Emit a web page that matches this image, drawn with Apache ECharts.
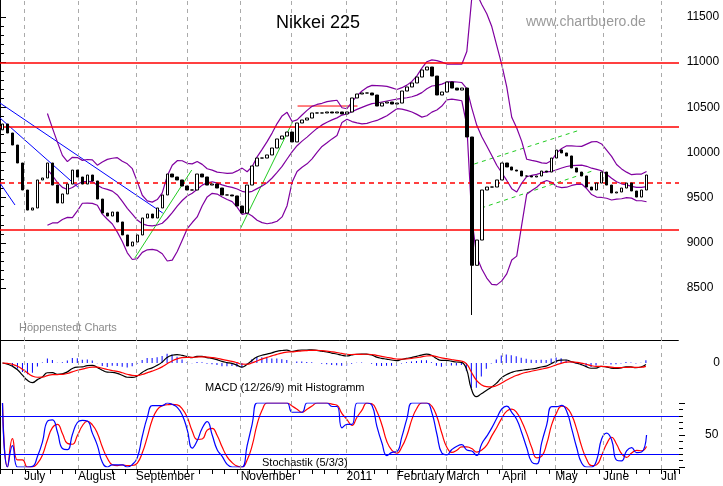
<!DOCTYPE html>
<html>
<head>
<meta charset="utf-8">
<script src="https://cdn.jsdelivr.net/npm/echarts@6/dist/echarts.min.js"></script>
<style>
  html, body { margin: 0; padding: 0; background: #fff; }
  #vis { width: 723px; height: 486px; }
</style>
</head>
<body>
<div id="vis"></div>
<script>
// closes per 2-day slot
const closes = [10315, 10215, 10082, 9883, 9584, 9362, 9385, 9695, 9717, 9883,
  9639, 9440, 9540, 9650, 9805, 9728, 9650, 9750, 9684, 9484,
  9329, 9296, 9340, 9230, 9086, 8964, 9008, 9086, 9274, 9318,
  9274, 9385, 9529, 9761, 9728, 9695, 9628, 9584, 9584, 9761,
  9728, 9639, 9650, 9606, 9529, 9529, 9518, 9407, 9329, 9639,
  9850, 9938, 9938, 9972, 10049, 10149, 10182, 10226, 10116, 10326,
  10359, 10381, 10437, 10437, 10437, 10448, 10437, 10448, 10426, 10448,
  10603, 10647, 10658, 10658, 10636, 10514, 10547, 10558, 10536, 10547,
  10680, 10725, 10769, 10835, 10913, 10946, 10846, 10636, 10669, 10780,
  10713, 10691, 10713, 10171, 8750, 9030, 9584, 9617, 9617, 9695,
  9883, 9839, 9805, 9794, 9739, 9739, 9728, 9739, 9794, 9783,
  9938, 10027, 9994, 9961, 9828, 9783, 9739, 9617, 9584, 9661,
  9783, 9639, 9551, 9562, 9606, 9661, 9573, 9506, 9584, 9750]
const firstOpen = 10250
const lowWicks = { 94: 8200 }
const slotCount = 136

const months = [
  { x: 4.8, name: 'July' }, { x: 15.6, name: 'August' }, { x: 27.2, name: 'September' },
  { x: 37.6, name: '' }, { x: 48.2, name: 'November' }, { x: 58.4, name: '' },
  { x: 69.4, name: '2011' }, { x: 79.4, name: 'February' }, { x: 89.4, name: 'March' },
  { x: 100.6, name: 'April' }, { x: 111.2, name: 'May' }, { x: 120.8, name: 'June' },
  { x: 132.4, name: 'Jul' }]

const hLines = [10990, 10282, 9141]
const dashLine = 9661
const resistance = [[59.6, 10514], [71.6, 10514]]
const blueLines = [[[0, 10547], [32.6, 9329]], [[0, 10381], [15.6, 9617]], [[0, 9661], [3, 9418]]]
const greenLines = [[[27, 8831], [38.4, 9805]], [[48.2, 9163], [58.6, 10337]]]
const greenDashed = [[[95, 9872], [115.6, 10238]], [[96.4, 9385], [118.6, 9794]]]

const FONT = 'Liberation Sans'

// candles: open = previous close
const opens = closes.map((c, i) => i === 0 ? firstOpen : closes[i - 1])
const highs = closes.map((c, i) => Math.max(c, opens[i]))
const lows = closes.map((c, i) => lowWicks[i] ?? Math.min(c, opens[i]))
const cats = Array.from({ length: slotCount }, (_, i) => i)
const candleData = closes.map((c, i) => [opens[i], c, lows[i], highs[i]])

function sma (arr, n) {
  return arr.map((v, i) => {
    if (i < n - 1) return null
    let s = 0
    for (let k = i - n + 1; k <= i; k++) s += arr[k]
    return s / n
  })
}
function ema (arr, n) {
  const a = 2 / (n + 1)
  const out = []
  arr.forEach((v, i) => { out.push(i === 0 ? v : a * v + (1 - a) * out[i - 1]) })
  return out
}

const bbN = 10
const mid = sma(closes, bbN)
const upper = []
const lower = []
closes.forEach((c, i) => {
  if (mid[i] == null) { upper.push(null); lower.push(null); return }
  let s = 0
  for (let k = i - bbN + 1; k <= i; k++) s += (closes[k] - mid[i]) ** 2
  const sd = Math.sqrt(s / bbN)
  upper.push(mid[i] + 2 * sd)
  lower.push(mid[i] - 2 * sd)
})

const e1 = ema(closes, 6)
const e2 = ema(closes, 13)
const macd = closes.map((c, i) => e1[i] - e2[i])
const signal = ema(macd, 5)
const hist = macd.map((m, i) => (m - signal[i]) * 1.5)
const macdMin = Math.min(...macd, ...signal) * 1.1
const macdMax = -macdMin * 23 / 37

const rawK = closes.map((c, i) => {
  const s = Math.max(0, i - 4)
  const hh = Math.max(...highs.slice(s, i + 1))
  const ll = Math.min(...lows.slice(s, i + 1))
  return hh === ll ? 50 : (c - ll) / (hh - ll) * 100
})
const kLine = sma(rawK, 3).map((v, i) => v ?? rawK[i])
const dLine = sma(kLine, 3).map((v, i) => v ?? kLine[i])

const chart = echarts.init(document.getElementById('vis'), null, { renderer: 'canvas' })

function valX (gridIndex) {
  return { type: 'value', gridIndex, min: 0, max: slotCount, show: false }
}
function catX (gridIndex) {
  return { type: 'category', gridIndex, data: cats, boundaryGap: true, show: false }
}
function seg (pts, color, type, idx) {
  return {
    type: 'line', xAxisIndex: idx, yAxisIndex: 0, data: pts, symbol: 'none', silent: true,
    lineStyle: { color, width: 1, type }, z: 3
  }
}

const options = {
  animation: false,
  backgroundColor: '#fff',
  textStyle: { fontFamily: FONT },
  title: [
    { text: 'Nikkei 225', left: 271, top: 9, textStyle: { fontFamily: FONT, fontSize: 18, fontWeight: 'normal', color: '#000' } },
    { text: 'www.chartbuero.de', left: 521, top: 10, textStyle: { fontFamily: FONT, fontSize: 14, fontWeight: 'normal', color: '#9a9a9a' } },
    { text: 'Höppenstedt Charts', left: 14, top: 317, textStyle: { fontFamily: FONT, fontSize: 11, fontWeight: 'normal', color: '#8a8a8a' } },
    { text: 'MACD (12/26/9) mit Histogramm', left: 200, top: 377, textStyle: { fontFamily: FONT, fontSize: 11, fontWeight: 'normal', color: '#000' } },
    { text: 'Stochastik (5/3/3)', left: 257, top: 452, textStyle: { fontFamily: FONT, fontSize: 11, fontWeight: 'normal', color: '#000' } }
  ],
  grid: [
    { left: 0, right: 44, top: 0, height: 340 }, // price
    { left: 0, right: 44, top: 17, height: 271 }, // price labels
    { left: 0, right: 44, top: 340, height: 60 }, // macd
    { left: 0, right: 44, top: 403, height: 64 }, // stochastic
    { left: 0, right: 44, top: 0, height: 469 } // frame
  ],
  xAxis: [
    catX(0), valX(0),
    valX(1),
    catX(2),
    catX(3),
    {
      type: 'value', gridIndex: 4, min: 0, max: slotCount, interval: 2.5,
      axisLine: { show: true, lineStyle: { color: '#000' } },
      axisTick: { show: true, length: 5, lineStyle: { color: '#000' } },
      axisLabel: { show: false }, splitLine: { show: false }
    },
    {
      type: 'category', gridIndex: 2, data: cats, boundaryGap: true,
      axisLine: { show: true, onZero: false, lineStyle: { color: '#000' } },
      axisTick: { show: false }, axisLabel: { show: false }
    }
  ],
  yAxis: [
    { type: 'value', gridIndex: 0, min: 7923, max: 11688, show: false },
    {
      type: 'value', gridIndex: 1, min: 8500, max: 11500, interval: 500, position: 'right',
      axisLine: { show: false }, axisTick: { show: true, length: 6, lineStyle: { color: '#000' } },
      minorTick: { show: true, splitNumber: 5, length: 4, lineStyle: { color: '#000' } },
      axisLabel: { color: '#000', fontSize: 12, fontFamily: FONT, margin: 10, formatter: v => String(v) },
      splitLine: { show: false }
    },
    {
      type: 'value', gridIndex: 2, min: macdMin, max: macdMax, position: 'right',
      axisLine: { show: false }, axisTick: { show: false }, splitLine: { show: false },
      axisLabel: { show: true, color: '#000', fontSize: 12, margin: 35, formatter: v => Math.abs(v) < 1e-6 ? '0' : '', customValues: [0] }
    },
    {
      type: 'value', gridIndex: 3, min: 0, max: 100, interval: 50, position: 'right',
      axisLine: { show: false }, axisTick: { show: true, length: 6, lineStyle: { color: '#000' } },
      minorTick: { show: true, splitNumber: 5, length: 4, lineStyle: { color: '#000' } },
      splitLine: { show: false },
      axisLabel: { color: '#000', fontSize: 12, margin: 26, formatter: v => v === 50 ? '50' : '' }
    },
    {
      type: 'value', gridIndex: 4, min: 0, max: 1, position: 'right',
      axisLine: { show: true, lineStyle: { color: '#000' } },
      axisTick: { show: false }, axisLabel: { show: false }, splitLine: { show: false }
    }
  ],
  series: [
    {
      type: 'line', xAxisIndex: 5, yAxisIndex: 4, data: [], silent: true,
      markLine: {
        symbol: 'none', silent: true,
        lineStyle: { color: '#aaa', type: [4, 4], width: 1 },
        label: {
          position: 'start', formatter: p => p.name, color: '#000', fontSize: 12, fontFamily: FONT,
          align: 'left', verticalAlign: 'top', distance: [4, 2]
        },
        data: months.map(m => ({ xAxis: m.x, name: m.name }))
      }
    },
    {
      type: 'line', xAxisIndex: 0, yAxisIndex: 0, data: [], silent: true,
      markLine: {
        symbol: 'none', silent: true, label: { show: false },
        data: [
          ...hLines.map(v => ({ yAxis: v, lineStyle: { color: '#f00', width: 1.5, type: 'solid' } })),
          { yAxis: dashLine, lineStyle: { color: '#f00', width: 1.5, type: [5, 4] } }
        ]
      }
    },
    seg(resistance, '#f00', 'solid', 1),
    ...blueLines.map(l => seg(l, '#0000ff', 'solid', 1)),
    ...greenLines.map(l => seg(l, '#22cc22', 'solid', 1)),
    ...greenDashed.map(l => seg(l, '#22cc22', [4, 4], 1)),
    ...[upper, mid, lower].map(b => ({
      type: 'line', xAxisIndex: 0, yAxisIndex: 0, data: b, symbol: 'none', silent: true,
      lineStyle: { color: '#8000a0', width: 1.2 }, z: 4
    })),
    {
      type: 'candlestick', xAxisIndex: 0, yAxisIndex: 0, data: candleData, barWidth: 3, z: 5,
      itemStyle: { color: '#fff', color0: '#000', borderColor: '#000', borderColor0: '#000', borderWidth: 1 }
    },
    {
      type: 'bar', xAxisIndex: 3, yAxisIndex: 2, data: hist, barWidth: 1,
      itemStyle: { color: '#0000ff' }, silent: true
    },
    {
      type: 'line', xAxisIndex: 3, yAxisIndex: 2, data: macd, symbol: 'none', smooth: true,
      lineStyle: { color: '#000', width: 1.2 }, silent: true
    },
    {
      type: 'line', xAxisIndex: 3, yAxisIndex: 2, data: signal, symbol: 'none', smooth: true,
      lineStyle: { color: '#f00', width: 1.2 }, silent: true
    },
    {
      type: 'line', xAxisIndex: 4, yAxisIndex: 3, data: dLine, symbol: 'none', smooth: true,
      lineStyle: { color: '#f00', width: 1.2 }, silent: true,
      markLine: {
        symbol: 'none', silent: true, label: { show: false },
        lineStyle: { color: '#0000ff', width: 1, type: 'solid' },
        data: [{ yAxis: 80 }, { yAxis: 20 }]
      }
    },
    {
      type: 'line', xAxisIndex: 4, yAxisIndex: 3, data: kLine, symbol: 'none', smooth: true,
      lineStyle: { color: '#0000ff', width: 1.2 }, silent: true
    }
  ]
}

chart.setOption(options)
</script>
</body>
</html>
